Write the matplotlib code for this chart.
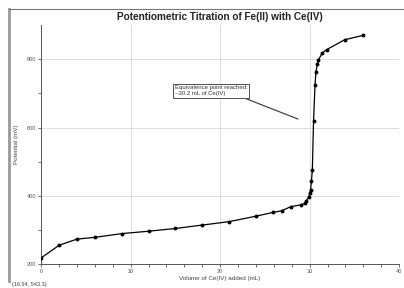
import numpy as np
import matplotlib.pyplot as plt

# titration data
volume_ml = [0, 2, 4, 6, 9, 12, 15, 18, 21, 24, 25.9, 26.9, 27.9, 29.0, 29.5, 29.6,
             29.9, 30.0, 30.1, 30.2, 30.3, 30.43, 30.6, 30.7, 30.85, 30.96, 31.4, 31.9,
             33.9, 36.0]
potential_mv = [219, 256, 274, 279, 290, 297, 305, 315, 325, 341, 352, 357, 369, 374,
                379, 384, 398, 408, 418, 444, 477, 618, 726, 762, 786, 797, 818, 828,
                857, 870]

title = 'Potentiometric Titration of Fe(II) with Ce(IV)'
xlabel = 'Volume of Ce(IV) added (mL)'
ylabel = 'Potential (mV)'
note = 'Equivalence point reached:\n~30.2 mL of Ce(IV)'
cursor_text = '(16.94, 543.3)'

plt.rcParams['font.family'] = ['Liberation Sans', 'DejaVu Sans']

fig = plt.figure(figsize=(4.04, 2.88), dpi=100)
ax = fig.add_axes([0.102, 0.082, 0.886, 0.831])

# frame border like the screenshot
fig.add_artist(plt.Line2D([0.022, 0.022], [0.025, 0.97], transform=fig.transFigure,
                          color='#999999', lw=2))
fig.add_artist(plt.Line2D([0.022, 1.0], [0.97, 0.97], transform=fig.transFigure,
                          color='#777777', lw=0.8))

ax.plot(volume_ml, potential_mv, color='black', lw=0.9, marker='o', ms=1.8, zorder=3)

ax.set_xlim(0, 40)
ax.set_ylim(200, 900)
ax.set_xticks([0, 10, 20, 30, 40])
ax.set_xticks(np.arange(0, 41, 2), minor=True)
ax.set_yticks([200, 400, 600, 800])
ax.set_yticks([300, 500, 700], minor=True)
ax.grid(True, which='major', color='#dddddd', lw=0.7)
ax.set_axisbelow(True)
ax.spines['top'].set_visible(False)
ax.spines['right'].set_visible(False)
for s in ['left', 'bottom']:
    ax.spines[s].set_color('#555555')
    ax.spines[s].set_linewidth(0.7)
ax.tick_params(which='both', labelsize=4, colors='#555555', length=2.5, width=0.6, pad=1)
ax.tick_params(which='minor', length=2)

ax.set_title(title, fontsize=7.2, fontweight='bold', color='#222222', pad=4)
ax.set_xlabel(xlabel, fontsize=4.5, color='#444444', labelpad=1)
ax.set_ylabel(ylabel, fontsize=4.5, color='#444444', labelpad=6)

ax.annotate(note, xy=(28.7, 625), xytext=(14.9, 724), fontsize=4.3, color='#333333',
            va='top', ha='left',
            bbox=dict(boxstyle='square,pad=0.25', fc='white', ec='#333333', lw=0.6),
            arrowprops=dict(arrowstyle='-', color='#333333', lw=0.8, shrinkA=2, shrinkB=0,
                            relpos=(0.89, 0.0)))

fig.text(0.029, 0.004, cursor_text, fontsize=4, color='#444444', ha='left', va='bottom')

fig.savefig('out.png', dpi=100)
